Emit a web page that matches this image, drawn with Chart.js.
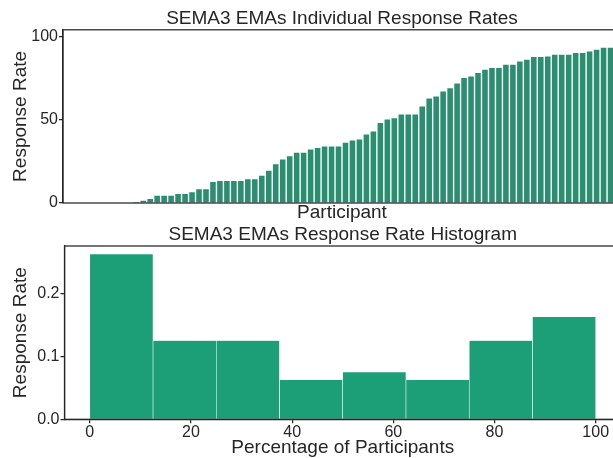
<!DOCTYPE html>
<html>
<head>
<meta charset="utf-8">
<script src="https://cdn.jsdelivr.net/npm/chart.js@4.4.1/dist/chart.umd.min.js"></script>
<style>
  html, body { margin: 0; padding: 0; background: #ffffff; overflow: hidden; width: 613px; height: 458px; }
  #wrap { position: relative; width: 613px; height: 458px; overflow: hidden; }
  canvas { position: absolute; left: 0; }
  #top { top: 0; }
  #bottom { top: 222px; }
</style>
</head>
<body>
<div id="wrap">
  <canvas id="top" width="630" height="226"></canvas>
  <canvas id="bottom" width="630" height="236"></canvas>
</div>
<script>
// ---------- DATA ----------
const topTitle = 'SEMA3 EMAs Individual Response Rates';
const bottomTitle = 'SEMA3 EMAs Response Rate Histogram';

// Individual response rates (%), sorted ascending, one per participant
const responseRates = [
  0, 0, 0, 0, 0, 0, 0, 0, 0, 0,
  0.6, 1.4, 2.4, 4.4, 4.4, 4.4, 5.4, 5.4, 6.4, 8.2,
  8.2, 12.6, 13.2, 13.2, 13.2, 13.2, 14.3, 14.3, 16.3, 19.3,
  23.3, 26.1, 28.1, 30.1, 30.1, 32.1, 33.1, 34.0, 34.0, 34.0,
  36.2, 37.6, 38.2, 41.1, 42.9, 48.1, 50.1, 50.9, 53.1, 53.1,
  53.1, 57.9, 62.7, 63.9, 66.9, 68.9, 71.7, 75.1, 76.0, 78.0,
  80.0, 81.0, 81.0, 83.0, 83.0, 85.0, 86.0, 87.6, 87.6, 88.0,
  89.0, 89.0, 89.0, 90.0, 90.0, 91.0, 92.0, 93.2, 93.2, 94.5
];
const participants = responseRates.map((_, i) => String(i + 1));

// Histogram: bin edges (%) and fraction of participants per bin
const binEdges = [0, 12.5, 25, 37.5, 50, 62.5, 75, 87.5, 100];
const binFractions = [0.2625, 0.125, 0.125, 0.0625, 0.075, 0.0625, 0.125, 0.1625];

// Tick labels
const topYTicks = [0, 50, 100];
const bottomYTicks = [0.0, 0.1, 0.2];
const bottomXTicks = [0, 20, 40, 60, 80, 100];

// ---------- STYLE ----------
const FONT = 'Liberation Sans, Arial, sans-serif';
const INK = '#262626';
const BAR_TOP = '#2b8e70';
const BAR_HIST = '#1c9e77';

Chart.defaults.font.family = FONT;
Chart.defaults.color = INK;
Chart.defaults.animation = false;

const framePlugin = {
  id: 'frame',
  afterDraw(chart) {
    const a = chart.chartArea, ctx = chart.ctx;
    ctx.save();
    ctx.strokeStyle = INK;
    ctx.lineWidth = 1.25;
    ctx.strokeRect(a.left, a.top, a.right - a.left, a.bottom - a.top);
    ctx.restore();
  }
};

const histCenters = binFractions.map((_, i) => (binEdges[i] + binEdges[i + 1]) / 2);

// ---------- TOP CHART ----------
new Chart(document.getElementById('top'), {
  type: 'bar',
  data: {
    labels: participants,
    datasets: [{
      data: responseRates,
      backgroundColor: BAR_TOP,
      borderWidth: 0,
      barPercentage: 0.8,
      categoryPercentage: 1.0
    }]
  },
  options: {
    responsive: false,
    devicePixelRatio: 1,
    layout: { padding: { left: 0, right: 9, top: 0, bottom: 0 } },
    plugins: {
      legend: { display: false },
      tooltip: { enabled: false },
      title: {
        display: true, text: topTitle, color: INK, fullSize: false,
        font: { size: 19, weight: 'normal', family: FONT },
        padding: { top: 7, bottom: 0 }
      }
    },
    scales: {
      x: {
        type: 'category',
        ticks: { display: false },
        grid: { display: false },
        border: { display: false },
        title: { display: true, text: 'Participant', color: INK, font: { size: 19 }, padding: { top: 0, bottom: 2 } },
        afterFit(s) { s.height = 23; }
      },
      y: {
        min: 0, max: 104,
        afterBuildTicks(s) { s.ticks = topYTicks.map(v => ({ value: v })); },
        ticks: { font: { size: 16 }, color: INK, padding: 1, callback: v => String(v) },
        grid: { display: true, drawOnChartArea: false, drawTicks: true, tickLength: 4, color: INK, lineWidth: 1.25 },
        border: { display: true, color: INK, width: 1.25 },
        title: { display: true, text: 'Response Rate', color: INK, font: { size: 19 }, padding: { top: 9, bottom: 0 } },
        afterFit(s) { s.width = 63; }
      }
    }
  },
  plugins: [framePlugin]
});

// ---------- BOTTOM CHART ----------
new Chart(document.getElementById('bottom'), {
  type: 'bar',
  data: {
    datasets: [{
      data: histCenters.map((c, i) => ({ x: c, y: binFractions[i] })),
      backgroundColor: BAR_HIST,
      borderColor: '#ffffff',
      borderWidth: { left: 0.6, right: 0.6, top: 0, bottom: 0 },
      borderSkipped: false,
      barPercentage: 1.0,
      categoryPercentage: 1.0
    }]
  },
  options: {
    responsive: false,
    devicePixelRatio: 1,
    layout: { padding: { left: 0, right: 9, top: 0, bottom: 0 } },
    plugins: {
      legend: { display: false },
      tooltip: { enabled: false },
      title: {
        display: true, text: bottomTitle, color: INK, fullSize: false,
        font: { size: 19, weight: 'normal', family: FONT },
        padding: { top: 1.2, bottom: 0 }
      }
    },
    scales: {
      x: {
        type: 'linear', min: -5, max: 105, offset: false,
        afterBuildTicks(s) { s.ticks = bottomXTicks.map(v => ({ value: v })); },
        ticks: { font: { size: 16 }, color: INK, padding: 0, maxRotation: 0, callback: v => String(v) },
        grid: { display: true, offset: false, drawOnChartArea: false, drawTicks: true, tickLength: 4, color: INK, lineWidth: 1.25 },
        border: { display: true, color: INK, width: 1.25 },
        title: { display: true, text: 'Percentage of Participants', color: INK, font: { size: 19 }, padding: { top: 0, bottom: -1.5 } },
        afterFit(s) { s.height = 38.7; }
      },
      y: {
        min: 0, max: 0.2756,
        afterBuildTicks(s) { s.ticks = bottomYTicks.map(v => ({ value: v })); },
        ticks: { font: { size: 16 }, color: INK, padding: 1, callback: v => Number(v).toFixed(1) },
        grid: { display: true, drawOnChartArea: false, drawTicks: true, tickLength: 4, color: INK, lineWidth: 1.25 },
        border: { display: true, color: INK, width: 1.25 },
        title: { display: true, text: 'Response Rate', color: INK, font: { size: 19 }, padding: { top: 9, bottom: 0 } },
        afterFit(s) { s.width = 64.5; }
      }
    }
  },
  plugins: [framePlugin]
});
</script>
</body>
</html>
